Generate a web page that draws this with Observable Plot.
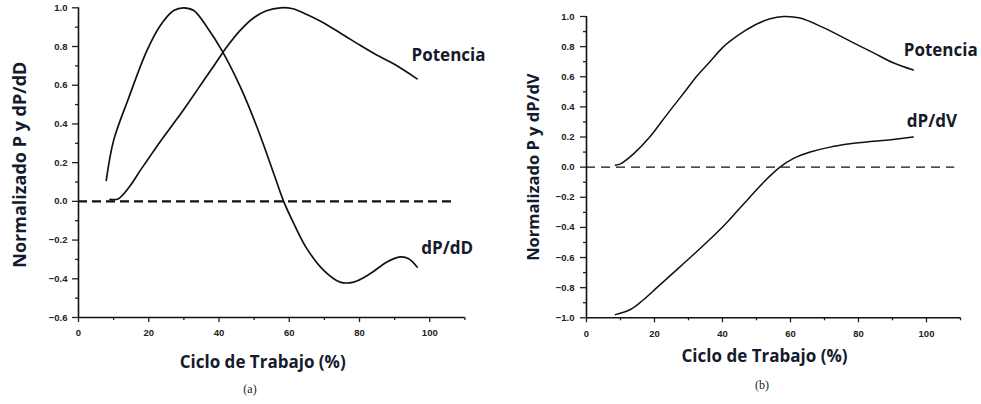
<!DOCTYPE html>
<html>
<head>
<meta charset="utf-8">
<script src="https://cdn.jsdelivr.net/npm/d3@7"></script>
<script src="https://cdn.jsdelivr.net/npm/@observablehq/plot@0.6"></script>
<style>
  body { margin: 0; background: #fff; width: 981px; height: 404px; overflow: hidden; position: relative; }
  .panel { position: absolute; top: 0; }
  .cap { position: absolute; font-family: "Liberation Serif", serif; font-size: 12px; color: #222; transform: translate(-50%, -50%); }
</style>
</head>
<body>
<div id="a" class="panel" style="left:0px"></div>
<div id="b" class="panel" style="left:490px"></div>
<div class="cap" style="left:250px; top:389px">(a)</div>
<div class="cap" style="left:762px; top:385px">(b)</div>
<script>
// ---------- Panel (a) data ----------
const aPotX = [9.0, 11.4, 14.5, 17.6, 19.5, 23.5, 28.0, 31.5, 35.1, 38.7, 42.3, 46.1, 50.0, 53.5, 57.5, 61.0, 65.0, 68.9, 74.5, 80.2, 85.0, 89.7, 96.4];
const aPotY = [0.01, 0.014, 0.075, 0.16, 0.21, 0.315, 0.425, 0.515, 0.61, 0.705, 0.80, 0.885, 0.95, 0.985, 1.0, 0.995, 0.965, 0.93, 0.87, 0.806, 0.755, 0.711, 0.633];
const aDerX = [7.9, 10.0, 14.2, 19.5, 23.3, 27.1, 29.9, 32.8, 36.6, 40.8, 46.1, 50.8, 55.6, 58.4, 61.3, 65.0, 69.8, 74.5, 78.3, 83.1, 87.8, 91.6, 94.0, 96.4];
const aDerY = [0.108, 0.315, 0.53, 0.78, 0.909, 0.986, 1.0, 0.986, 0.90, 0.78, 0.59, 0.384, 0.143, 0.0, -0.115, -0.244, -0.356, -0.417, -0.417, -0.373, -0.313, -0.287, -0.296, -0.339];
const aLabels = ["Potencia", "dP/dD"];
const aLabelX = [94.8, 97.6];
const aLabelY = [0.754, -0.243];
const aYTicks = [1.0, 0.8, 0.6, 0.4, 0.2, 0.0, -0.2, -0.4, -0.6];
const aYMinor = [0.9, 0.7, 0.5, 0.3, 0.1, -0.1, -0.3, -0.5];
const aYTitle = "Normalizado P y dP/dD";

// ---------- Panel (b) data ----------
const bPotX = [8.5, 10.0, 13.9, 18.6, 22.0, 25.4, 28.9, 32.3, 36.3, 40.3, 43.3, 46.2, 50.1, 54.0, 57.9, 62.8, 69.7, 77.5, 84.3, 90.2, 96.1];
const bPotY = [0.013, 0.022, 0.09, 0.20, 0.30, 0.40, 0.50, 0.60, 0.70, 0.80, 0.855, 0.90, 0.95, 0.985, 1.0, 0.99, 0.926, 0.837, 0.76, 0.693, 0.645];
const bDerX = [8.5, 12.9, 16.5, 20.7, 25.6, 31.0, 36.0, 40.3, 44.2, 48.1, 52.1, 56.9, 60.9, 65.8, 71.6, 77.5, 84.3, 90.2, 96.1];
const bDerY = [-0.979, -0.945, -0.885, -0.80, -0.70, -0.59, -0.485, -0.39, -0.295, -0.198, -0.10, 0.0, 0.058, 0.10, 0.133, 0.155, 0.172, 0.184, 0.20];
const bLabels = ["Potencia", "dP/dV"];
const bLabelX = [93.3, 94.2];
const bLabelY = [0.777, 0.305];
const bYTicks = [1.0, 0.8, 0.6, 0.4, 0.2, 0.0, -0.2, -0.4, -0.6, -0.8, -1.0];
const bYMinor = [0.9, 0.7, 0.5, 0.3, 0.1, -0.1, -0.3, -0.5, -0.7, -0.9];
const bYTitle = "Normalizado P y dP/dV";

// ---------- shared ----------
const xTicks = [0, 20, 40, 60, 80, 100];
const xMinor = [10, 30, 50, 70, 90, 110];
const xTitle = "Ciclo de Trabajo (%)";

const txtColor = "#151a2c";
const labelFont = "'Open Sans', Lato, sans-serif";
const fmt = d3.format(".1f");

function pts(xs, ys) { return xs.map((x, i) => ({x, y: ys[i]})); }

function panel(o) {
  const curves = [pts(o.potX, o.potY), pts(o.derX, o.derY)];
  const labels = o.labels.map((t, i) => ({t, x: o.labelX[i], y: o.labelY[i]}));
  const tf = {fontFamily: labelFont, fontWeight: "bold", fill: txtColor};
  return Plot.plot({
    width: o.width, height: 375,
    marginLeft: o.ml, marginRight: o.mr, marginTop: o.mt, marginBottom: o.mb,
    style: {fontFamily: "'Liberation Sans', Arial, sans-serif", fontSize: "9.5px", fontWeight: "bold", color: "#222", background: "white", overflow: "visible"},
    x: {domain: [0, 110]},
    y: {domain: o.yDomain},
    marks: [
      Plot.axisX({ticks: xTicks, tickSize: 5, tickPadding: 7, tickFormat: d => String(d), label: null, strokeWidth: 1.3}),
      Plot.axisX({ticks: xMinor, tickSize: 3, text: null, label: null, strokeWidth: 1.3}),
      Plot.axisY({ticks: o.yTicks, tickSize: 6, tickPadding: o.tp, tickFormat: fmt, label: null, strokeWidth: 1.3}),
      Plot.axisY({ticks: o.yMinor, tickSize: 3, text: null, label: null, strokeWidth: 1.3}),
      Plot.ruleY([o.yDomain[0]], {stroke: "#111", strokeWidth: 1.6}),
      Plot.ruleX([0], {stroke: "#111", strokeWidth: 1.6}),
      Plot.ruleY([0], {x1: 0, x2: o.dashEnd, stroke: "#111", strokeWidth: o.dashW, strokeDasharray: o.dash}),
      ...curves.map(c => Plot.line(c, {x: "x", y: "y", curve: "catmull-rom", stroke: "#111", strokeWidth: o.lineW})),
      Plot.text(labels, {x: "x", y: "y", text: "t", textAnchor: "start", lineAnchor: "middle", fontSize: 17, ...tf}),
      Plot.text([xTitle], {frameAnchor: "bottom", textAnchor: "middle", lineAnchor: "middle", dy: o.xdy, dx: -9, fontSize: 17, ...tf}),
      Plot.text([o.yTitle], {frameAnchor: "left", textAnchor: "middle", lineAnchor: "middle", dx: o.ydx, dy: o.yshift, rotate: -90, fontSize: o.yfs, ...tf})
    ]
  });
}

document.getElementById("a").append(panel({
  width: 490, ml: 78, mr: 25.6, mt: 7.3, mb: 58,
  yDomain: [-0.6, 1.0], yTicks: aYTicks, yMinor: aYMinor, tp: 5,
  potX: aPotX, potY: aPotY, derX: aDerX, derY: aDerY,
  labels: aLabels, labelX: aLabelX, labelY: aLabelY,
  dashEnd: 106.7, dashW: 2.4, dash: "9,5", lineW: 1.7,
  xdy: 45, ydx: -58, yshift: 2, yfs: 18, yTitle: aYTitle
}));

document.getElementById("b").append(panel({
  width: 491, ml: 96, mr: 21, mt: 16, mb: 57.7,
  yDomain: [-1.0, 1.0], yTicks: bYTicks, yMinor: bYMinor, tp: 6,
  potX: bPotX, potY: bPotY, derX: bDerX, derY: bDerY,
  labels: bLabels, labelX: bLabelX, labelY: bLabelY,
  dashEnd: 108.3, dashW: 1.4, dash: "9,6", lineW: 1.5,
  xdy: 39, ydx: -53, yshift: 0, yfs: 16.5, yTitle: bYTitle
}));
</script>
</body>
</html>
